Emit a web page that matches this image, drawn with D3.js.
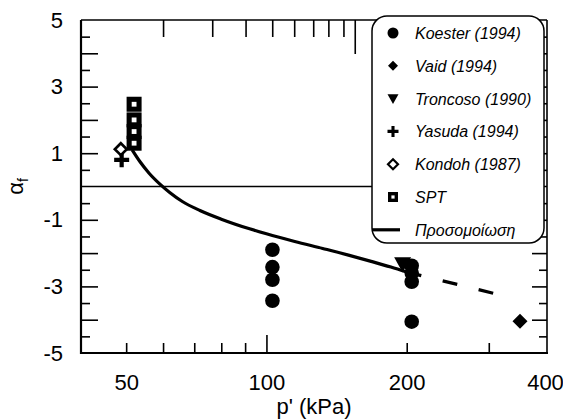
<!DOCTYPE html>
<html>
<head>
<meta charset="utf-8">
<script src="https://cdn.jsdelivr.net/npm/d3@7"></script>
<style>
  html, body { margin: 0; padding: 0; background: #fff; }
  svg { display: block; font-family: Arial, "Liberation Sans", sans-serif; }
</style>
</head>
<body>
<svg id="chart" width="563" height="420"></svg>
<script>
// Measured series: effective stress p' (kPa) and the parameter α_f
const koesterP = [103, 103, 103, 103, 205, 205, 205, 205];
const koesterA = [-1.9, -2.42, -2.8, -3.43, -2.38, -2.6, -2.86, -4.06];
const vaidP = [350];
const vaidA = [-4.05];
const troncosoP = [196];
const troncosoA = [-2.33];
const yasudaP = [48.9];
const yasudaA = [0.8];
const kondohP = [48.7];
const kondohA = [1.12];
const sptP = [52, 52, 52, 52];
const sptA = [2.47, 2.0, 1.65, 1.3];

// Simulation curve (solid part) and its extrapolation (dashed part)
const simP = [51.5, 53.5, 56, 59, 62, 66, 72, 80, 92, 100, 115, 132, 150, 167, 185, 200];
const simA = [1.1, 0.75, 0.4, 0.08, -0.18, -0.45, -0.72, -0.98, -1.27, -1.42, -1.65, -1.86, -2.06, -2.24, -2.42, -2.57];
const extP = [200, 312];
const extA = [-2.57, -3.23];

// Axis ticks and labels
const xLabels = [50, 100, 200, 400];
const xMinorTicks = [50, 60, 70, 80, 90, 200, 300];
const xMajorTicks = [100];
const topMinorTicks = [60, 76.5, 90.2, 102.9, 114.7, 126, 135.8, 146.3];
const topMajorTicks = [154.7];
const yLabels = [5, 3, 1, -1, -3, -5];
const yMajorTicks = [4, 3, 2, 1, -1, -2, -3, -4];
const yMinorTicks = [4.5, 3.5, 2.5, 1.5, 0.5, -0.5, -1.5, -2.5, -3.5, -4.5];

const legendLabels = ["Koester (1994)", "Vaid (1994)", "Troncoso (1990)", "Yasuda (1994)",
                      "Kondoh (1987)", "SPT", "Προσομοίωση"];

const svg = d3.select("#chart");
const L = 81, R = 547, T = 20, B = 353;
const x = d3.scaleLog().domain([40, 400]).range([L, R]);
const y = d3.scaleLinear().domain([-5, 5]).range([B, T]);

const axisFont = 22;
const plainNum = d => String(d);   // ASCII hyphen for negatives

function styleTicks(g, w) {
  g.select(".domain").remove();
  g.selectAll(".tick line").attr("stroke", "#000").attr("stroke-width", w);
}
function styleLabels(g) {
  g.select(".domain").remove();
  g.selectAll("text").attr("font-size", axisFont).attr("fill", "#000")
    .attr("font-family", "Arial, 'Liberation Sans', sans-serif");
}

// Bottom axis ticks (pointing inward)
svg.append("g").attr("transform", `translate(0,${B})`)
  .call(d3.axisBottom(x).tickValues(xMinorTicks).tickSize(-10).tickFormat(""))
  .call(g => styleTicks(g, 1.6));
svg.append("g").attr("transform", `translate(0,${B})`)
  .call(d3.axisBottom(x).tickValues(xMajorTicks).tickSize(-18).tickFormat(""))
  .call(g => styleTicks(g, 1.6));
svg.append("g").attr("transform", `translate(0,${B})`)
  .call(d3.axisBottom(x).tickValues(xLabels).tickSize(0).tickPadding(21).tickFormat(plainNum))
  .call(styleLabels)
  .call(g => g.selectAll("text").filter(d => d === 400).attr("dx", -2));

// Top axis ticks
svg.append("g").attr("transform", `translate(0,${T})`)
  .call(d3.axisTop(x).tickValues(topMinorTicks).tickSize(-17).tickFormat(""))
  .call(g => styleTicks(g, 1.6));
svg.append("g").attr("transform", `translate(0,${T})`)
  .call(d3.axisTop(x).tickValues(topMajorTicks).tickSize(-34).tickFormat(""))
  .call(g => styleTicks(g, 1.6));

// Left axis ticks and labels
svg.append("g").attr("transform", `translate(${L},0)`)
  .call(d3.axisLeft(y).tickValues(yMajorTicks).tickSize(-17).tickFormat(""))
  .call(g => styleTicks(g, 1.6));
svg.append("g").attr("transform", `translate(${L},0)`)
  .call(d3.axisLeft(y).tickValues(yMinorTicks).tickSize(-9).tickFormat(""))
  .call(g => styleTicks(g, 1.6));
svg.append("g").attr("transform", `translate(${L},0)`)
  .call(d3.axisLeft(y).tickValues(yLabels).tickSize(0).tickPadding(18).tickFormat(plainNum))
  .call(styleLabels);

// Right axis ticks
svg.append("g").attr("transform", `translate(${R},0)`)
  .call(d3.axisRight(y).tickValues(yMajorTicks).tickSize(-15).tickFormat(""))
  .call(g => styleTicks(g, 1.6));
svg.append("g").attr("transform", `translate(${R},0)`)
  .call(d3.axisRight(y).tickValues(yMinorTicks).tickSize(-8).tickFormat(""))
  .call(g => styleTicks(g, 1.6));

// Frame
svg.append("line").attr("x1", L).attr("x2", R).attr("y1", T).attr("y2", T).attr("stroke", "#000").attr("stroke-width", 1.6);
svg.append("line").attr("x1", R).attr("x2", R).attr("y1", T).attr("y2", B).attr("stroke", "#000").attr("stroke-width", 1.6);
svg.append("line").attr("x1", L).attr("x2", L).attr("y1", T).attr("y2", B + 1).attr("stroke", "#000").attr("stroke-width", 2.2);
svg.append("line").attr("x1", L).attr("x2", R + 1).attr("y1", B).attr("y2", B).attr("stroke", "#000").attr("stroke-width", 2.2);

// Zero reference line
svg.append("line").attr("x1", L).attr("x2", R).attr("y1", y(0)).attr("y2", y(0))
  .attr("stroke", "#000").attr("stroke-width", 1.3);

// Axis titles
svg.append("text").attr("x", (L + R) / 2).attr("y", 414).attr("text-anchor", "middle")
  .attr("font-size", axisFont).text("p' (kPa)");
const yt = svg.append("text").attr("transform", `translate(23,${y(0)}) rotate(-90)`)
  .attr("text-anchor", "middle").attr("font-size", axisFont);
yt.append("tspan").text("α");
yt.append("tspan").attr("font-size", 14).attr("dy", 5).text("f");

// Simulation curve
const line = d3.line().x(d => x(d[0])).y(d => y(d[1])).curve(d3.curveMonotoneX);
svg.append("path").datum(d3.zip(simP, simA)).attr("d", line)
  .attr("fill", "none").attr("stroke", "#000").attr("stroke-width", 3.2);
svg.append("path").datum(d3.zip(extP, extA)).attr("d", line)
  .attr("fill", "none").attr("stroke", "#000").attr("stroke-width", 3.2)
  .attr("stroke-dasharray", "15,22");

// Marker shapes
const shapes = {
  circle: (g, s) => g.append("circle").attr("r", s / 2).attr("fill", "#000"),
  diamond: (g, s) => g.append("path").attr("d", `M0,${-s/2}L${s/2},0L0,${s/2}L${-s/2},0Z`).attr("fill", "#000"),
  triangle: (g, s) => g.append("path").attr("d", `M${-s/2},${-s*0.4}L${s/2},${-s*0.4}L0,${s*0.5}Z`).attr("fill", "#000"),
  plus: (g, s) => g.append("path").attr("d", `M${-s/2},0H${s/2}M0,${-s/2}V${s/2}`).attr("stroke", "#000").attr("stroke-width", s * 0.28),
  openDiamond: (g, s) => g.append("path").attr("d", `M0,${-s/2}L${s/2},0L0,${s/2}L${-s/2},0Z`).attr("fill", "#fff").attr("stroke", "#000").attr("stroke-width", s * 0.22),
  square: (g, s) => g.append("rect").attr("x", -s/2 + s*0.17).attr("y", -s/2 + s*0.17).attr("width", s - s*0.34).attr("height", s - s*0.34)
    .attr("fill", "#fff").attr("stroke", "#000").attr("stroke-width", s * 0.34)
};

function plotSeries(ps, as, shape, size) {
  d3.zip(ps, as).forEach(([p, a]) => {
    const g = svg.append("g").attr("transform", `translate(${x(p)},${y(a)})`);
    shapes[shape](g, size);
  });
}

plotSeries(sptP, sptA, "square", 15);
plotSeries(yasudaP, yasudaA, "plus", 15);
plotSeries(kondohP, kondohA, "openDiamond", 12);
plotSeries(troncosoP, troncosoA, "triangle", 17);
plotSeries(koesterP, koesterA, "circle", 14.6);
plotSeries(vaidP, vaidA, "diamond", 15);

// Legend
const lg = svg.append("g");
lg.append("rect").attr("x", 372).attr("y", 16).attr("width", 172).attr("height", 227)
  .attr("rx", 15).attr("ry", 15).attr("fill", "#fff").attr("stroke", "#000").attr("stroke-width", 1.5);
const legendShapes = ["circle", "diamond", "triangle", "plus", "openDiamond", "square", "line"];
const legendSizes = [11, 10, 11, 11, 10, 10, 0];
legendLabels.forEach((lab, i) => {
  const cy = 33 + i * 32.8;
  const g = lg.append("g").attr("transform", `translate(393,${cy})`);
  if (legendShapes[i] === "line") {
    g.append("line").attr("x1", -21).attr("x2", 7).attr("stroke", "#000").attr("stroke-width", 3.2);
  } else {
    shapes[legendShapes[i]](g, legendSizes[i]);
  }
  lg.append("text").attr("x", 415).attr("y", cy + 6).attr("font-size", 16)
    .attr("font-style", "italic").text(lab);
});
</script>
</body>
</html>
